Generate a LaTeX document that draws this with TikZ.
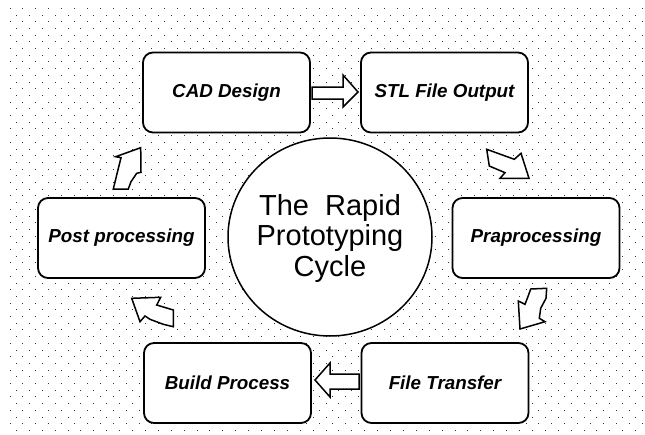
\documentclass[tikz,border=0pt]{standalone}
\usepackage{fontspec}
\setmainfont{Liberation Sans}
\begin{document}
\begin{tikzpicture}[x=1pt,y=-1pt,
  stagebox/.style={draw=black,line width=1.8pt,fill=white,rounded corners=10pt,
    minimum width=167pt,minimum height=80pt,inner sep=0pt,
    font=\fontsize{18.8}{22}\selectfont\bfseries\itshape},
  blockarrow/.style={draw=black,line width=1.5pt,fill=white,line join=miter}]
\useasboundingbox (0,0) rectangle (645,434);
\fill[white] (0,0) rectangle (645,434);
% dotted background
\foreach \j in {0,...,64}{
  \pgfmathsetmacro{\yy}{8.3+6.7*\j}
  \pgfmathsetmacro{\off}{mod(\j,2)*6.45}
  \foreach \i in {0,...,49}{
    \fill[black!80] (10+\off+12.9*\i-0.5,\yy-0.5) rectangle ++(1.0,1.0);
  }
}
% central circle
\draw[line width=1.5pt,fill=white] (330,237) ellipse [x radius=102,y radius=99];
\node[align=center,font=\fontsize{29}{30.5}\selectfont] (hub) at (330,238)
  {The\ \ Rapid\\Prototyping\\Cycle};
% stage boxes
\node[stagebox] (cad)   at (226.5,92.5)  {CAD Design};
\node[stagebox] (stl)   at (444.5,92.5)  {STL File Output};
\node[stagebox] (pre)   at (536,238)     {Praprocessing};
\node[stagebox] (ft)    at (445,383)     {File Transfer};
\node[stagebox] (build) at (227.5,383)   {Build Process};
\node[stagebox] (post)  at (121.5,238)   {Post processing};
% straight block arrows
\draw[blockarrow] (312,87) -- (343,87) -- (343,75) -- (358,92) -- (343,107)
  -- (343,99) -- (312,99) -- cycle;
\draw[blockarrow] (359,374) -- (330,374) -- (330,363) -- (315,380) -- (330,397)
  -- (330,389) -- (359,389) -- cycle;
% bent block arrows
\draw[blockarrow] (486.7,149.3) -- (514.3,159.3) -- (521,153.3) -- (529,178.3)
  -- (500,178.3) -- (505,172.7) -- (489.3,166) -- cycle;
\draw[blockarrow] (530.7,289) -- (546.7,288.3) -- (546,298.3) -- (540.7,308.3)
  -- (539.3,318.3) -- (545,321.7) -- (520,329) -- (518.3,301) -- (525,304.3)
  -- (528.3,295.7) -- cycle;
\draw[blockarrow] (131.7,298.3) -- (160.7,297.3) -- (156.7,305) -- (173.3,310)
  -- (173.3,326.7) -- (163.3,324.3) -- (150,319.3) -- (145,316) -- (140,321.7)
  -- cycle;
\draw[blockarrow] (113.3,189) -- (128.3,189) -- (131,181.7) -- (136.7,173.3)
  -- (141,172.3) -- (140.7,147.7) -- (115.7,156.7) -- (121,157.7) -- (116.7,175)
  -- cycle;
\end{tikzpicture}
\end{document}
